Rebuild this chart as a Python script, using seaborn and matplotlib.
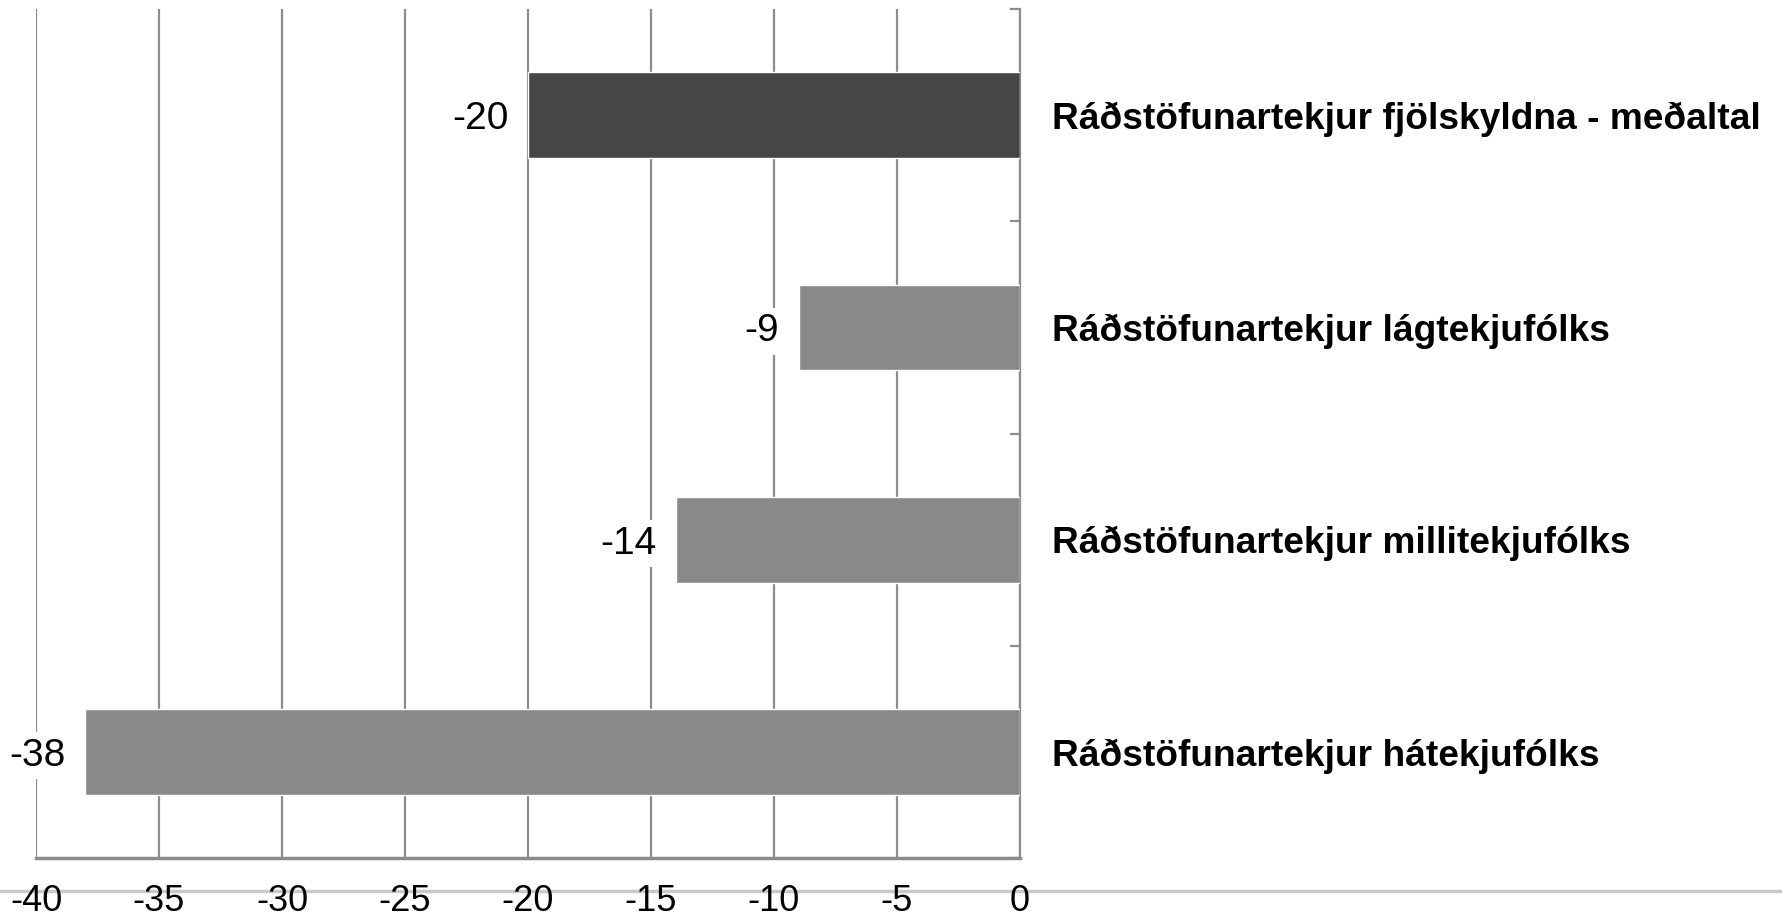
import matplotlib
matplotlib.use("Agg")
import matplotlib.pyplot as plt
import seaborn as sns
import pandas as pd
from matplotlib.ticker import FixedLocator
from matplotlib.lines import Line2D

categories = [
    "Ráðstöfunartekjur fjölskyldna - meðaltal",
    "Ráðstöfunartekjur lágtekjufólks",
    "Ráðstöfunartekjur millitekjufólks",
    "Ráðstöfunartekjur hátekjufólks",
]
values = [-20, -9, -14, -38]
bar_colors = ["#464646", "#898989", "#898989", "#898989"]
x_ticks = [-40, -35, -30, -25, -20, -15, -10, -5, 0]

sns.set_style("white")
plt.rcParams["font.family"] = ["Liberation Sans", "DejaVu Sans"]
plt.rcParams["text.color"] = "black"

df = pd.DataFrame({"cat": categories, "val": values})

fig = plt.figure(figsize=(17.83, 9.18), dpi=100)
ax = fig.add_axes([0.0202, 0.0654, 0.5518, 0.9246])

sns.barplot(data=df, x="val", y="cat", hue="cat", palette=bar_colors,
            orient="h", width=0.405, legend=False, ax=ax, saturation=1,
            zorder=3)

ax.set_xlim(-40, 0)
ax.set_ylim(3.5, -0.5)
ax.set_xticks(x_ticks)
ax.set_xticklabels([str(t) for t in x_ticks], fontsize=26)
ax.set_xlabel("")
ax.set_ylabel("")

# vertical gridlines
ax.xaxis.grid(True, color="#8c8c8c", linewidth=1.6, zorder=0)
ax.yaxis.grid(False)
ax.set_axisbelow(True)

for s in ["left", "top"]:
    ax.spines[s].set_visible(False)
for s in ["right", "bottom"]:
    ax.spines[s].set_visible(True)
    ax.spines[s].set_color("#8c8c8c")
ax.spines["bottom"].set_linewidth(2.5)
ax.spines["right"].set_linewidth(1.6)

ax.tick_params(axis="x", direction="out", length=10, width=1.6,
               color="#8c8c8c", pad=9, labelcolor="black")

# category names on the right side
ax.yaxis.tick_right()
ax.tick_params(axis="y", which="major", length=0, pad=23,
               labelsize=26.7, labelcolor="black")
for lab in ax.get_yticklabels():
    lab.set_fontweight("bold")
ax.yaxis.set_minor_locator(FixedLocator([-0.5, 0.5, 1.5, 2.5, 3.5]))
ax.tick_params(axis="y", which="minor", direction="in", length=7,
               width=1.6, color="#8c8c8c", right=True, left=False)

for c in ax.containers:
    texts = ax.bar_label(c, fmt="%g", padding=14, fontsize=28, zorder=5,
                         color="black",
                         bbox=dict(facecolor="white", edgecolor="none", pad=4))
    for t in texts:
        t.set_va("center_baseline")

# light rule across the bottom
fig.add_artist(Line2D([0, 1], [1 - 891 / 918] * 2, transform=fig.transFigure,
                      color="#c9cbc3", linewidth=2.5, zorder=0))

fig.savefig("out.png", dpi=100)
